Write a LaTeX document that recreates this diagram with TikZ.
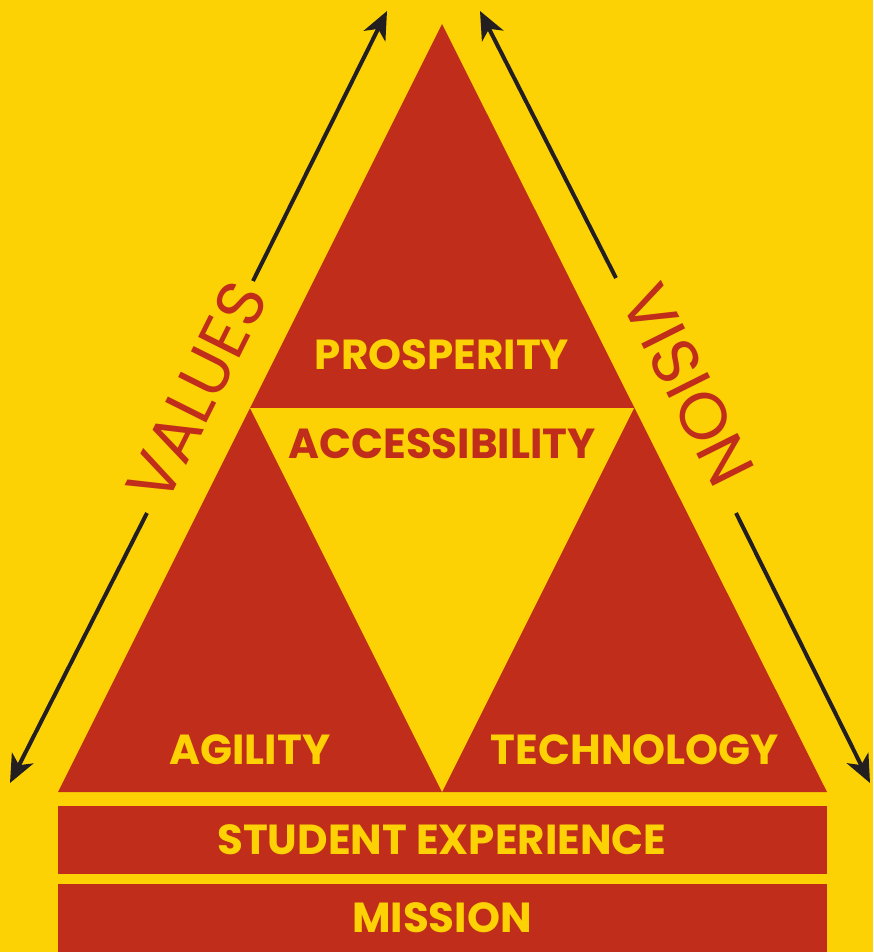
\documentclass[tikz,border=0pt]{standalone}
\usepackage{fontspec}
\setmainfont{Poppins}
\usetikzlibrary{arrows.meta}
\definecolor{bgyellow}{HTML}{FDD205}
\definecolor{tred}{HTML}{C02D1A}
\definecolor{arrowblack}{HTML}{231F20}
\begin{document}
\begin{tikzpicture}[x=1pt,y=-1pt,
  lab/.style={font=\bfseries\fontsize{42}{46}\selectfont, inner sep=0pt, anchor=center},
  side/.style={font=\fontsize{66}{70}\selectfont, text=tred, inner sep=0pt, anchor=center},
  conn/.style={draw=arrowblack, line width=4pt, -{Stealth[length=28pt,width=24pt,inset=8pt]}}]
\fill[bgyellow] (0,0) rectangle (873,952);
\useasboundingbox (0,0) rectangle (873,952);
% big triangle
\fill[tred] (442,24) -- (827,792) -- (58,792) -- cycle;
% inner inverted triangle
\fill[bgyellow] (250,408) -- (634,408) -- (442,792) -- cycle;
% bars
\fill[tred] (58,806) rectangle (827,874);
\fill[tred] (58,884) rectangle (827,952);
% labels
\node[lab, text=bgyellow] (prosp) at (442,355) {PROSPERITY};
\node[lab, text=tred] (access) at (442,444) {ACCESSIBILITY};
\node[lab, text=bgyellow] (agil) at (250,750) {AGILITY};
\node[lab, text=bgyellow] (tech) at (635,750) {TECHNOLOGY};
\node[lab, text=bgyellow] (stud) at (442,840) {STUDENT EXPERIENCE};
\node[lab, text=bgyellow] (miss) at (442,918) {MISSION};
\node[side, rotate=63.43] (values) at (197,392) {VALUES};
\node[side, rotate=-63.43] (vision) at (688,385) {VISION};
% arrows
\coordinate (lt1) at (253,281);
\coordinate (lt2) at (387,11);
\coordinate (lb1) at (147,513);
\coordinate (lb2) at (10,783);
\coordinate (rt1) at (616,278);
\coordinate (rt2) at (480,11);
\coordinate (rb1) at (736,513);
\coordinate (rb2) at (870,783);
\draw[conn] (lt1) -- (lt2);
\draw[conn] (lb1) -- (lb2);
\draw[conn] (rt1) -- (rt2);
\draw[conn] (rb1) -- (rb2);
\end{tikzpicture}
\end{document}
